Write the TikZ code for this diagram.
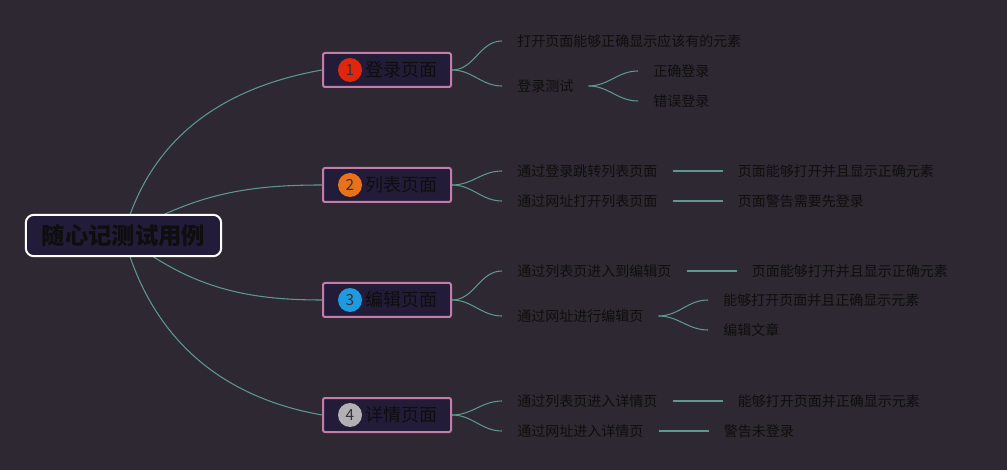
\documentclass[tikz,border=0pt]{standalone}
\usepackage{fontspec}
\setmainfont{Noto Sans CJK SC}
\usepackage{tikz}
\usetikzlibrary{positioning,backgrounds}
\definecolor{canvas}{HTML}{2D2832}
\definecolor{boxfill}{HTML}{231C38}
\definecolor{pinkline}{HTML}{C47CA8}
\definecolor{wirecol}{HTML}{5E9690}
\definecolor{ink}{HTML}{0E0E0E}
\definecolor{badgered}{HTML}{E0260E}
\definecolor{badgeorange}{HTML}{E8711A}
\definecolor{badgeblue}{HTML}{1E9AE0}
\definecolor{badgegray}{HTML}{B3B0B4}
\tikzset{
  root/.style={
    draw=white, line width=1.5pt, fill=boxfill, rounded corners=6pt,
    text=ink, font=\fontsize{17.5}{20}\selectfont\bfseries,
    minimum width=146.5pt, minimum height=31pt
  },
  branch/.style={
    draw=pinkline, line width=1.5pt, fill=boxfill, rounded corners=1.5pt,
    minimum width=96pt, minimum height=25.5pt
  },
  btext/.style={text=ink, font=\fontsize{13.5}{16}\selectfont, inner sep=0pt, anchor=west},
  badge/.style={circle, minimum size=18pt, inner sep=0pt, text=ink!85, font=\fontsize{11.5}{13}\selectfont},
  leaf/.style={text=ink, font=\fontsize{10.5}{12}\selectfont, inner xsep=11.25pt, inner ysep=2pt, anchor=west},
  wire/.style={draw=wirecol, line width=0.8pt}
}

\begin{document}
\begin{tikzpicture}[x=0.75pt,y=-0.75pt]
  % root
  \node[root] (root) at (123.5,235.5) {随心记测试用例};

  % main branches
  \foreach \i/\y/\col/\txt in {1/70/badgered/登录页面, 2/185/badgeorange/列表页面,
                               3/300/badgeblue/编辑页面, 4/415/badgegray/详情页面}{
    \node[branch] (b\i) at (387,\y) {};
    \node[badge, fill=\col] (n\i) at (350,\y) {\i};
    \node[btext] (t\i) at (365,\y) {\txt};
  }

  % 登录页面
  \node[leaf] (a11)  at (502,41)  {打开页面能够正确显示应该有的元素};
  \node[leaf] (a12)  at (502,86)  {登录测试};
  \node[leaf] (a121) at (638,71)  {正确登录};
  \node[leaf] (a122) at (638,101) {错误登录};

  % 列表页面
  \node[leaf] (a21) at (502,171) {通过登录跳转列表页面};
  \node[leaf] (a22) at (502,201) {通过网址打开列表页面};
  \node[leaf, right=37.5pt of a21] (a211) {页面能够打开并且显示正确元素};
  \node[leaf, right=37.5pt of a22] (a221) {页面警告需要先登录};

  % 编辑页面
  \node[leaf] (a31)  at (502,271) {通过列表页进入到编辑页};
  \node[leaf] (a32)  at (502,316) {通过网址进行编辑页};
  \node[leaf, right=37.5pt of a31] (a311) {页面能够打开并且显示正确元素};
  \node[leaf] (a321) at (708,300) {能够打开页面并且正确显示元素};
  \node[leaf] (a322) at (708,330) {编辑文章};

  % 详情页面
  \node[leaf] (a41) at (502,401) {通过列表页进入详情页};
  \node[leaf] (a42) at (502,431) {通过网址进入详情页};
  \node[leaf, right=37.5pt of a41] (a411) {能够打开页面并正确显示元素};
  \node[leaf, right=37.5pt of a42] (a421) {警告未登录};

  \begin{scope}[on background layer]
    \fill[canvas] (0,0) rectangle (1007,470);
    \draw[wire] (root.center) to[out=75,in=190] (b1.west);
    \draw[wire] (root.center) to[out=30,in=180] (b2.west);
    \draw[wire] (root.center) to[out=-38,in=180] (b3.west);
    \draw[wire] (root.center) to[out=-75,in=170] (b4.west);
  \end{scope}

  % edges
  \foreach \p/\c in {b1/a11, b1/a12, a12/a121, a12/a122, b2/a21, b2/a22,
                     b3/a31, b3/a32, a32/a321, a32/a322, b4/a41, b4/a42}
    \draw[wire] (\p.east) to[out=0,in=180] (\c.west);
  \foreach \p/\c in {a21/a211, a22/a221, a31/a311, a41/a411, a42/a421}
    \draw[wire] (\p.east) -- (\c.west);
\end{tikzpicture}
\end{document}
